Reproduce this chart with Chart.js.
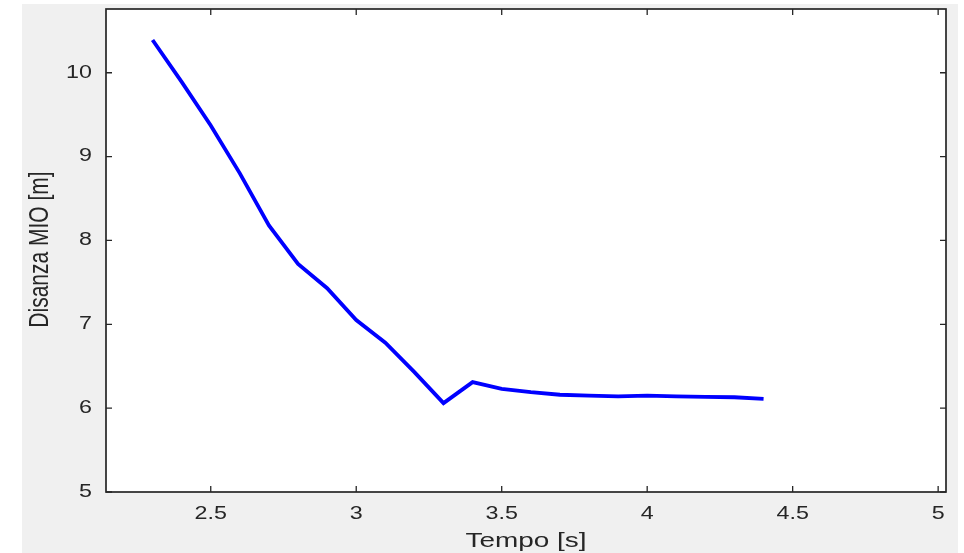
<!DOCTYPE html>
<html>
<head>
<meta charset="utf-8">
<script src="https://cdn.jsdelivr.net/npm/chart.js@4/dist/chart.umd.min.js"></script>
<style>
  html, body { margin: 0; padding: 0; background: #fff; }
  #wrap { width: 964px; height: 553px; }
</style>
</head>
<body>
<div id="wrap"><canvas id="distChart" width="964" height="553"></canvas></div>
<script>
// Tempo [s]
const tempo = [2.3, 2.4, 2.5, 2.6, 2.7, 2.8, 2.9, 3.0, 3.1, 3.2, 3.3,
               3.4, 3.5, 3.6, 3.7, 3.8, 3.9, 4.0, 4.1, 4.2, 4.3, 4.4];
// Disanza MIO [m]
const distanza = [10.39, 9.89, 9.37, 8.80, 8.18, 7.72, 7.43, 7.05, 6.78, 6.43, 6.06,
                  6.31, 6.23, 6.19, 6.16, 6.15, 6.14, 6.15, 6.14, 6.135, 6.13, 6.11];

const xTicks = [2.5, 3, 3.5, 4, 4.5, 5];
const yTicks = [5, 6, 7, 8, 9, 10];

const xTitle = "Tempo [s]";
const yTitle = "Disanza MIO [m]";

const axisColor = "#262626";
const fontFamily = "'Liberation Sans', Arial, sans-serif";
const stretch = 1.33; // the source image is widened, text looks wide

// draw a text widened horizontally (on screen)
function wideText(ctx, txt, x, y, align, rotate) {
  ctx.save();
  ctx.translate(x, y);
  if (rotate) {
    ctx.rotate(-Math.PI / 2);
    ctx.scale(1, stretch);
  } else {
    ctx.scale(stretch, 1);
  }
  ctx.textAlign = align;
  ctx.textBaseline = "middle";
  ctx.fillText(txt, 0, 0);
  ctx.restore();
}

// grey figure background, white axes, box with inward ticks (matlab look)
const matlabFrame = {
  id: "matlabFrame",
  beforeDraw(chart) {
    const { ctx, chartArea: a } = chart;
    ctx.save();
    ctx.fillStyle = "#f0f0f0";
    ctx.fillRect(22, 4, 936, 549);
    ctx.fillStyle = "#ffffff";
    ctx.fillRect(a.left, a.top, a.right - a.left, a.bottom - a.top);
    ctx.restore();
  },
  afterDraw(chart) {
    const { ctx, chartArea: a, scales } = chart;
    const tl = 6;
    ctx.save();
    ctx.strokeStyle = axisColor;
    ctx.lineWidth = 1.7;
    ctx.strokeRect(a.left, a.top, a.right - a.left, a.bottom - a.top);
    ctx.lineWidth = 1.3;
    ctx.beginPath();
    scales.x.ticks.forEach(t => {
      const px = scales.x.getPixelForValue(t.value);
      ctx.moveTo(px, a.bottom); ctx.lineTo(px, a.bottom - tl);
      ctx.moveTo(px, a.top); ctx.lineTo(px, a.top + tl);
    });
    scales.y.ticks.forEach(t => {
      const py = scales.y.getPixelForValue(t.value);
      ctx.moveTo(a.left, py); ctx.lineTo(a.left + tl, py);
      ctx.moveTo(a.right, py); ctx.lineTo(a.right - tl, py);
    });
    ctx.stroke();

    // tick labels
    ctx.fillStyle = axisColor;
    ctx.font = "17.5px " + fontFamily;
    scales.x.ticks.forEach(t => {
      wideText(ctx, String(t.value), scales.x.getPixelForValue(t.value), a.bottom + 22, "center");
    });
    scales.y.ticks.forEach(t => {
      wideText(ctx, String(t.value), a.left - 14, scales.y.getPixelForValue(t.value), "right");
    });

    // axis titles
    ctx.font = "21px " + fontFamily;
    wideText(ctx, xTitle, (a.left + a.right) / 2, 541, "center");
    wideText(ctx, yTitle, 40, (a.top + a.bottom) / 2 - 1, "center", true);
    ctx.restore();
  }
};

new Chart(document.getElementById("distChart"), {
  type: "line",
  data: {
    datasets: [{
      data: tempo.map((t, i) => ({ x: t, y: distanza[i] })),
      borderColor: "#0000ff",
      borderWidth: 3.8,
      pointRadius: 0,
      tension: 0,
      fill: false
    }]
  },
  options: {
    responsive: false,
    animation: false,
    layout: { padding: { left: 0, right: 18, top: 9, bottom: 0 } },
    plugins: {
      legend: { display: false },
      tooltip: { enabled: false }
    },
    scales: {
      x: {
        type: "linear",
        min: 2.14,
        max: 5.027,
        afterBuildTicks: s => { s.ticks = xTicks.map(v => ({ value: v })); },
        afterFit: s => { s.height = 61; s.paddingLeft = 0; s.paddingRight = 0; },
        grid: { display: false, drawTicks: false },
        border: { display: false },
        ticks: { display: false },
        title: { display: false }
      },
      y: {
        type: "linear",
        min: 5,
        max: 10.76,
        afterBuildTicks: s => { s.ticks = yTicks.map(v => ({ value: v })); },
        afterFit: s => { s.width = 106; s.paddingTop = 0; s.paddingBottom = 0; },
        grid: { display: false, drawTicks: false },
        border: { display: false },
        ticks: { display: false },
        title: { display: false }
      }
    }
  },
  plugins: [matlabFrame]
});
</script>
</body>
</html>
